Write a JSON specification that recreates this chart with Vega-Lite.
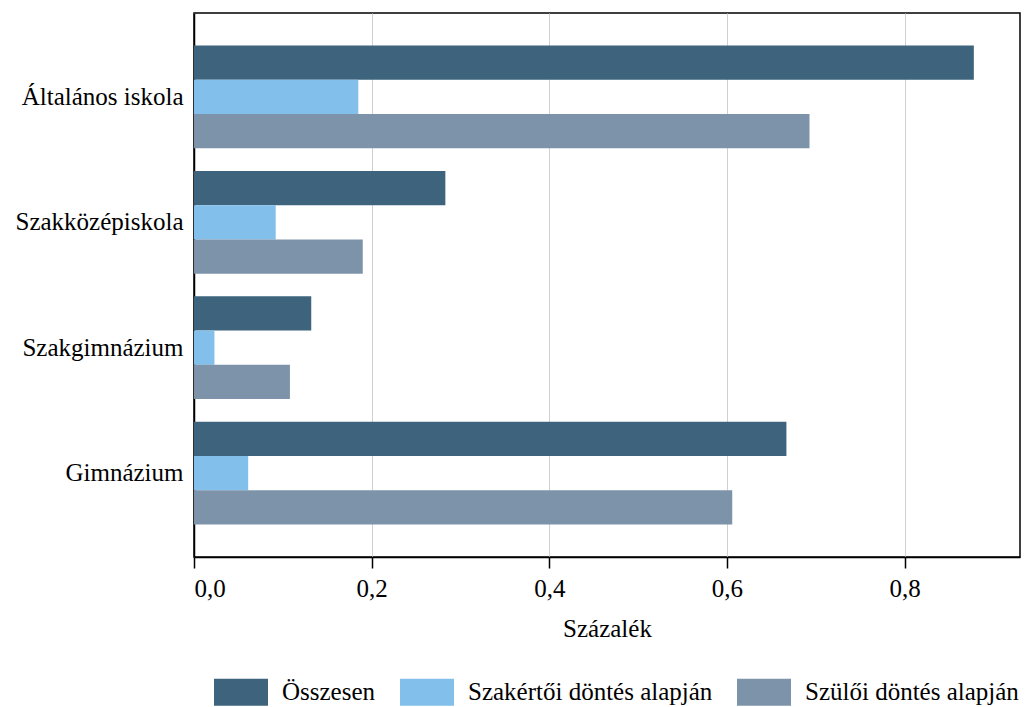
{
  "$schema": "https://vega.github.io/schema/vega-lite/v6.json",
  "width": 826,
  "height": 544,
  "autosize": {"type": "none"},
  "padding": {"left": 194, "top": 13, "right": 9, "bottom": 150},
  "background": "white",
  "config": {
    "font": "Liberation Serif",
    "view": {"stroke": "black", "strokeWidth": 1.5},
    "axis": {"labelColor": "black", "titleColor": "black", "domainColor": "black", "domainWidth": 1.5}
  },
  "data": {
    "values": [
      {"iskola": "Általános iskola", "sorozat": "Összesen", "ertek": 0.878},
      {"iskola": "Általános iskola", "sorozat": "Szakértői döntés alapján", "ertek": 0.185},
      {"iskola": "Általános iskola", "sorozat": "Szülői döntés alapján", "ertek": 0.693},
      {"iskola": "Szakközépiskola", "sorozat": "Összesen", "ertek": 0.283},
      {"iskola": "Szakközépiskola", "sorozat": "Szakértői döntés alapján", "ertek": 0.092},
      {"iskola": "Szakközépiskola", "sorozat": "Szülői döntés alapján", "ertek": 0.19},
      {"iskola": "Szakgimnázium", "sorozat": "Összesen", "ertek": 0.132},
      {"iskola": "Szakgimnázium", "sorozat": "Szakértői döntés alapján", "ertek": 0.023},
      {"iskola": "Szakgimnázium", "sorozat": "Szülői döntés alapján", "ertek": 0.108},
      {"iskola": "Gimnázium", "sorozat": "Összesen", "ertek": 0.667},
      {"iskola": "Gimnázium", "sorozat": "Szakértői döntés alapján", "ertek": 0.061},
      {"iskola": "Gimnázium", "sorozat": "Szülői döntés alapján", "ertek": 0.606}
    ]
  },
  "mark": {"type": "bar"},
  "encoding": {
    "y": {
      "field": "iskola",
      "type": "nominal",
      "sort": ["Általános iskola", "Szakközépiskola", "Szakgimnázium", "Gimnázium"],
      "scale": {"paddingInner": 0.18, "paddingOuter": 0.26},
      "axis": {"title": null, "ticks": false, "labelFontSize": 25, "labelPadding": 11, "labelLimit": 300, "grid": false}
    },
    "yOffset": {
      "field": "sorozat",
      "type": "nominal",
      "sort": ["Összesen", "Szakértői döntés alapján", "Szülői döntés alapján"],
      "scale": {"paddingInner": 0, "paddingOuter": 0}
    },
    "x": {
      "field": "ertek",
      "type": "quantitative",
      "scale": {"domain": [0, 0.93], "nice": false, "zero": true},
      "axis": {
        "title": "Százalék",
        "values": [0, 0.2, 0.4, 0.6, 0.8],
        "labelExpr": "replace(format(datum.value, '.1f'), '.', ',')",
        "tickSize": 11,
        "tickColor": "black",
        "tickWidth": 1.5,
        "grid": true,
        "gridColor": "#d0d0d0",
        "gridWidth": 1,
        "labelFontSize": 25,
        "labelPadding": 8,
        "titleFontSize": 25,
        "titleFontWeight": "normal",
        "titlePadding": 15
      }
    },
    "color": {
      "field": "sorozat",
      "type": "nominal",
      "scale": {
        "domain": ["Összesen", "Szakértői döntés alapján", "Szülői döntés alapján"],
        "range": ["#3e637d", "#82bfea", "#7d93aa"]
      },
      "legend": {
        "title": null,
        "orient": "none",
        "legendX": 20,
        "legendY": 652,
        "direction": "horizontal",
        "symbolType": "M-1,-0.5H1V0.5H-1Z",
        "symbolSize": 2916,
        "symbolStrokeWidth": 0,
        "symbolOpacity": 1,
        "labelFontSize": 25,
        "labelColor": "black",
        "labelLimit": 400,
        "labelOffset": 14,
        "columnPadding": 24
      }
    }
  }
}
